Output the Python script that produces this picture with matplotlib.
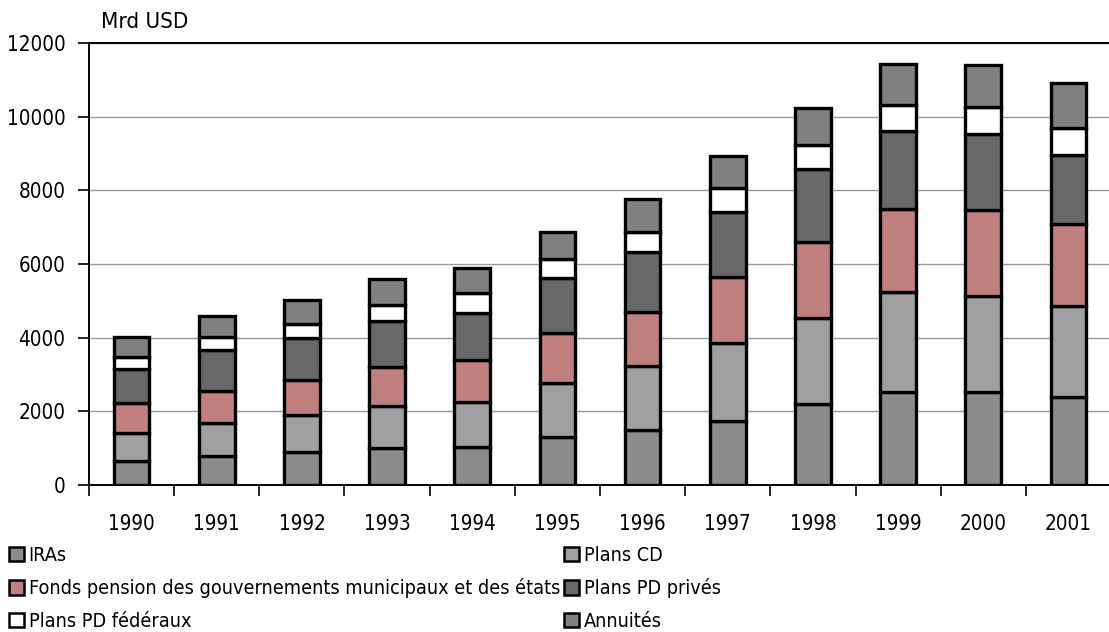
import numpy as np
import matplotlib.pyplot as plt
from matplotlib.patches import Patch

plt.rcParams['font.family'] = ['DejaVu Sans']
plt.rcParams['font.stretch'] = 'condensed'

years = ['1990', '1991', '1992', '1993', '1994', '1995',
         '1996', '1997', '1998', '1999', '2000', '2001']

# Mrd USD, stacked from bottom to top
iras = [660, 800, 890, 1010, 1040, 1310, 1490, 1750, 2190, 2535, 2535, 2400]
plans_cd = [740, 890, 1010, 1140, 1220, 1470, 1740, 2100, 2355, 2700, 2600, 2470]
fonds_etats = [820, 870, 950, 1060, 1130, 1360, 1460, 1810, 2060, 2250, 2335, 2220]
pd_prives = [920, 1105, 1130, 1240, 1270, 1475, 1645, 1765, 1965, 2125, 2065, 1875]
pd_federaux = [340, 345, 390, 450, 540, 515, 545, 635, 660, 705, 740, 740]
annuites = [530, 580, 650, 685, 680, 750, 880, 860, 995, 1115, 1130, 1220]

series = [
    ('IRAs', iras, '#8c8c8c'),
    ('Plans CD', plans_cd, '#a0a0a0'),
    ('Fonds pension des gouvernements municipaux et des états', fonds_etats, '#c08080'),
    ('Plans PD privés', pd_prives, '#686868'),
    ('Plans PD fédéraux', pd_federaux, '#ffffff'),
    ('Annuités', annuites, '#808080'),
]

W, H = 1109, 632
fig = plt.figure(figsize=(W / 100, H / 100), dpi=100)
ax = fig.add_axes([89 / W, 1 - 485 / H, (1111 - 89) / W, 442 / H])

x = np.arange(len(years))
bottom = np.zeros(len(years))
handles = {}
for name, vals, col in series:
    ax.bar(x, vals, width=0.42, bottom=bottom, color=col,
           edgecolor='black', linewidth=2.4, zorder=3)
    bottom += np.array(vals)
    handles[name] = Patch(facecolor=col, edgecolor='black', linewidth=1.8)

ax.set_xlim(-0.5, len(years) - 0.5)
ax.set_ylim(0, 12000)
ax.set_yticks(np.arange(0, 12001, 2000))
ax.yaxis.grid(True, color='#999999', linewidth=1.0, zorder=0)
ax.set_axisbelow(True)

# ticks between categories, labels centred under bars
ax.set_xticks(np.arange(-0.5, len(years), 1.0))
ax.set_xticklabels([])
ax.set_xticks(x, minor=True)
ax.set_xticklabels(years, minor=True)
ax.tick_params(axis='x', which='major', length=8, width=1.2, direction='out')
ax.tick_params(axis='x', which='minor', length=0, pad=21, labelsize=14.8)
ax.tick_params(axis='y', length=8, width=1.2, pad=9, labelsize=14.8)

for side in ['left', 'bottom', 'top']:
    ax.spines[side].set_linewidth(1.4)
    ax.spines[side].set_color('black')
ax.spines['right'].set_visible(False)

fig.text(101 / W, 1 - 22 / H, 'Mrd USD', fontsize=16, va='center', ha='left')

order = ['IRAs', 'Fonds pension des gouvernements municipaux et des états',
         'Plans PD fédéraux', 'Plans CD', 'Plans PD privés', 'Annuités']
fig.legend([handles[n] for n in order], order, ncol=2, frameon=False,
           loc='upper left', bbox_to_anchor=(9 / W, 1 - 546 / H),
           fontsize=14.2, handlelength=0.75, handleheight=0.75,
           handletextpad=0.25, columnspacing=0.2, labelspacing=0.68,
           borderpad=0, borderaxespad=0)

fig.savefig('out.png', dpi=100)
